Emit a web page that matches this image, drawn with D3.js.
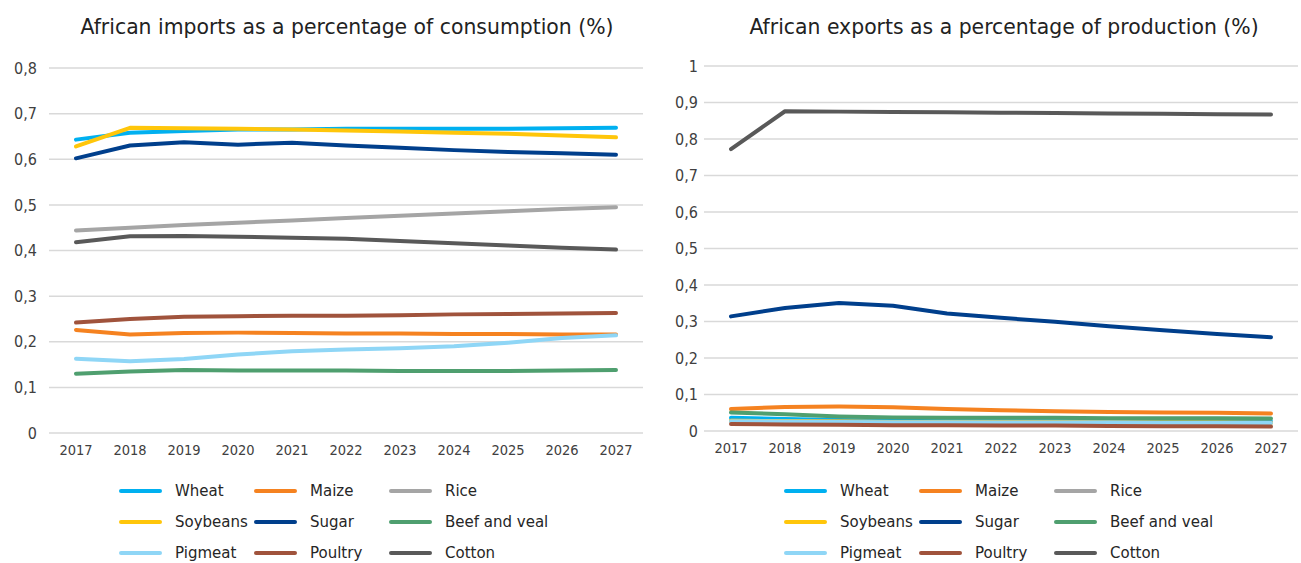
<!DOCTYPE html>
<html>
<head>
<meta charset="utf-8">
<script src="https://cdn.jsdelivr.net/npm/d3@7"></script>
<style>
  html, body { margin: 0; padding: 0; background: #ffffff; }
  svg { display: block; }
</style>
</head>
<body>
<svg id="chart" width="1301" height="563"></svg>
<script>
// Years on the category axis
const years = ["2017","2018","2019","2020","2021","2022","2023","2024","2025","2026","2027"];

// Commodity names (legend order = drawing order)
const commodities = ["Wheat","Maize","Rice","Soybeans","Sugar","Beef and veal","Pigmeat","Poultry","Cotton"];
const colors = ["#00b0f0","#f58220","#a5a5a5","#ffc60a","#003f8c","#4f9f6f","#8fd6f6","#a0533c","#595959"];

// Imports as a share of consumption
const importWheat    = [0.643,0.658,0.662,0.665,0.665,0.667,0.667,0.667,0.667,0.668,0.669];
const importMaize    = [0.226,0.216,0.219,0.220,0.219,0.218,0.218,0.217,0.217,0.216,0.216];
const importRice     = [0.444,0.450,0.456,0.461,0.466,0.471,0.476,0.481,0.486,0.491,0.495];
const importSoybeans = [0.628,0.669,0.668,0.667,0.665,0.663,0.661,0.658,0.656,0.652,0.648];
const importSugar    = [0.602,0.630,0.637,0.632,0.636,0.630,0.625,0.620,0.616,0.613,0.610];
const importBeef     = [0.130,0.135,0.138,0.137,0.137,0.137,0.136,0.136,0.136,0.137,0.138];
const importPigmeat  = [0.163,0.157,0.162,0.172,0.179,0.183,0.186,0.190,0.198,0.208,0.214];
const importPoultry  = [0.242,0.250,0.255,0.256,0.257,0.257,0.258,0.260,0.261,0.262,0.263];
const importCotton   = [0.418,0.431,0.432,0.430,0.428,0.426,0.421,0.416,0.411,0.406,0.402];

// Exports as a share of production
const exportWheat    = [0.036,0.033,0.030,0.028,0.027,0.027,0.027,0.027,0.026,0.026,0.026];
const exportMaize    = [0.060,0.066,0.067,0.065,0.060,0.057,0.054,0.052,0.051,0.050,0.048];
const exportRice     = [0.028,0.027,0.026,0.025,0.025,0.024,0.024,0.024,0.023,0.023,0.023];
const exportSoybeans = [0.028,0.027,0.026,0.025,0.025,0.024,0.024,0.023,0.023,0.023,0.022];
const exportSugar    = [0.314,0.337,0.351,0.343,0.322,0.310,0.299,0.287,0.276,0.266,0.257];
const exportBeef     = [0.051,0.046,0.040,0.037,0.036,0.036,0.036,0.035,0.035,0.035,0.034];
const exportPigmeat  = [0.027,0.026,0.025,0.024,0.024,0.023,0.023,0.023,0.022,0.022,0.022];
const exportPoultry  = [0.019,0.018,0.017,0.016,0.016,0.015,0.015,0.014,0.013,0.013,0.012];
const exportCotton   = [0.772,0.876,0.875,0.874,0.873,0.872,0.871,0.870,0.869,0.868,0.867];

// Tick labels
const importTicks = ["0","0,1","0,2","0,3","0,4","0,5","0,6","0,7","0,8"];
const exportTicks = ["0","0,1","0,2","0,3","0,4","0,5","0,6","0,7","0,8","0,9","1"];

const importSeries = [importWheat,importMaize,importRice,importSoybeans,importSugar,importBeef,importPigmeat,importPoultry,importCotton];
const exportSeries = [exportWheat,exportMaize,exportRice,exportSoybeans,exportSugar,exportBeef,exportPigmeat,exportPoultry,exportCotton];

const titleFont = "'DejaVu Sans', Verdana, sans-serif";
const tickFont = "'Liberation Sans Narrow', 'DejaVu Sans Condensed', sans-serif";

const svg = d3.select("#chart");

function drawPanel(cfg) {
  const g = svg.append("g");
  const x = d3.scaleBand().domain(years).range([cfg.left, cfg.right]);
  const y = d3.scaleLinear().domain([0, cfg.max]).range([cfg.bottom, cfg.top]);
  const tickValues = cfg.ticks.map((t, i) => i / 10);

  // gridlines
  g.append("g")
    .selectAll("line").data(tickValues).join("line")
    .attr("x1", cfg.left).attr("x2", cfg.right)
    .attr("y1", d => y(d)).attr("y2", d => y(d))
    .attr("stroke", "#d9d9d9").attr("stroke-width", 1.5);

  // y axis labels
  const yAxis = d3.axisLeft(y).tickValues(tickValues)
    .tickFormat((d, i) => cfg.ticks[i]).tickSize(0).tickPadding(0);
  const ya = g.append("g").attr("transform", `translate(${cfg.labelX},0)`).call(yAxis);
  ya.select(".domain").remove();
  ya.selectAll("text").attr("font-family", tickFont).attr("font-size", 16)
    .attr("fill", "#404040");

  // x axis labels
  const xAxis = d3.axisBottom(x).tickSize(0).tickPadding(12);
  const xa = g.append("g").attr("transform", `translate(0,${cfg.bottom})`).call(xAxis);
  xa.select(".domain").remove();
  xa.selectAll("text").attr("font-family", tickFont).attr("font-size", 14.5)
    .attr("fill", "#404040");

  // series lines
  const line = d3.line()
    .x((d, i) => x(years[i]) + x.bandwidth() / 2)
    .y(d => y(d));
  g.append("g").selectAll("path").data(cfg.series).join("path")
    .attr("d", d => line(d))
    .attr("fill", "none")
    .attr("stroke", (d, i) => colors[i])
    .attr("stroke-width", 4)
    .attr("stroke-linecap", "round")
    .attr("stroke-linejoin", "round");

  // title
  g.append("text")
    .attr("x", cfg.titleX).attr("y", 34)
    .attr("text-anchor", "middle")
    .attr("font-family", titleFont).attr("font-size", 20.4)
    .attr("fill", "#222222")
    .text(cfg.title);

  // legend: three columns, three rows
  const leg = g.append("g");
  commodities.forEach((name, i) => {
    const col = i % 3, row = Math.floor(i / 3);
    const lx = cfg.legendX + col * 135;
    const ly = 491 + row * 31;
    leg.append("line")
      .attr("x1", lx).attr("x2", lx + 39)
      .attr("y1", ly).attr("y2", ly)
      .attr("stroke", colors[i]).attr("stroke-width", 4)
      .attr("stroke-linecap", "round");
    leg.append("text")
      .attr("x", lx + 54).attr("y", ly)
      .attr("dy", "0.35em")
      .attr("font-family", titleFont).attr("font-size", 15)
      .attr("fill", "#262626")
      .text(name);
  });
}

drawPanel({
  title: "African imports as a percentage of consumption (%)",
  titleX: 347,
  left: 49, right: 643, top: 68, bottom: 433, max: 0.8,
  labelX: 37, ticks: importTicks, series: importSeries, legendX: 121
});

drawPanel({
  title: "African exports as a percentage of production (%)",
  titleX: 1004,
  left: 704, right: 1298, top: 66, bottom: 431, max: 1.0,
  labelX: 698, ticks: exportTicks, series: exportSeries, legendX: 786
});
</script>
</body>
</html>
